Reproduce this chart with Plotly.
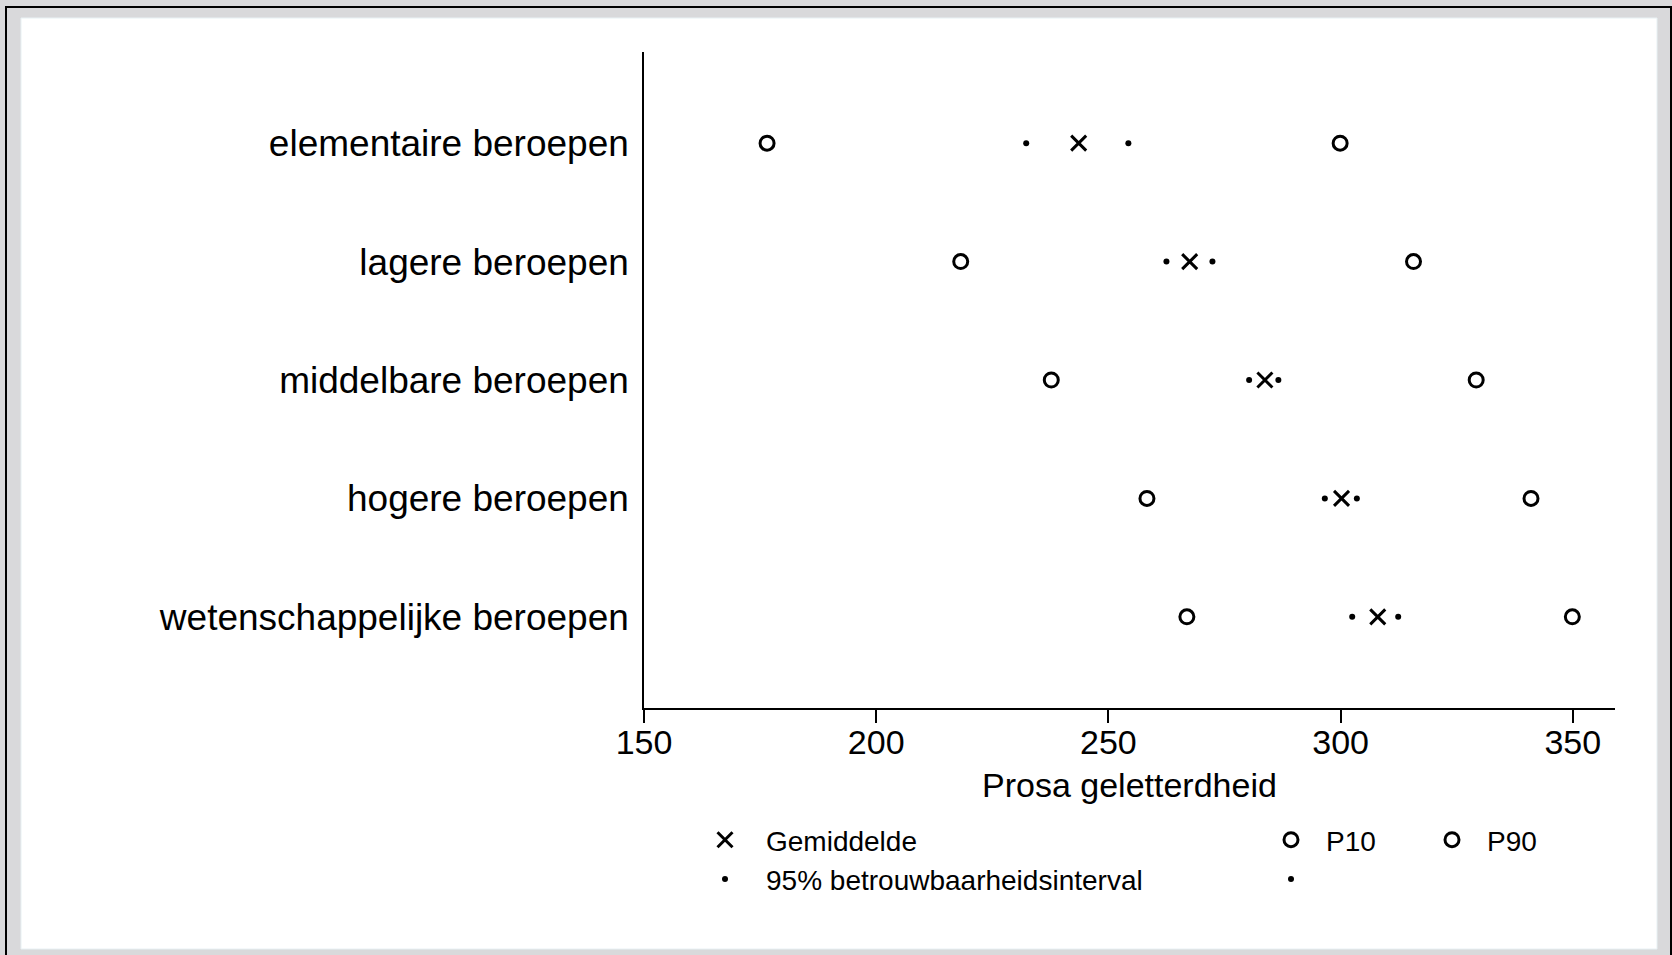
import plotly.graph_objects as go

# ---- data ----
categories = ["elementaire beroepen", "lagere beroepen", "middelbare beroepen",
              "hogere beroepen", "wetenschappelijke beroepen"]
gemiddelde = [243.6, 267.5, 283.7, 300.2, 308.0]
ci_lower = [232.3, 262.5, 280.3, 296.6, 302.5]
ci_upper = [254.3, 272.4, 286.6, 303.5, 312.4]
p10 = [176.5, 218.2, 237.7, 258.3, 266.9]
p90 = [299.9, 315.7, 329.2, 341.0, 349.9]
x_ticks = [150, 200, 250, 300, 350]
x_title = "Prosa geletterdheid"
names = {"mean": "Gemiddelde", "ci": "95% betrouwbaarheidsinterval",
         "p10": "P10", "p90": "P90"}

# ---- layout geometry (pixels) ----
W, H = 1672, 955
ML, MR, MT, MB = 644, 57, 52, 247
PW, PH = W - ML - MR, H - MT - MB


def px(xp):
    return (xp - ML) / PW


def py(yp):
    return (H - MB - yp) / PH


FONT = "Liberation Sans, Arial, Helvetica, sans-serif"
BLACK = "black"
FS = 37      # category labels
FS_X = 34    # x tick labels and axis title

fig = go.Figure()

fig.add_trace(go.Scatter(
    x=gemiddelde, y=categories, mode="markers", name=names["mean"],
    marker=dict(symbol="x-thin", size=15, line=dict(width=3, color=BLACK), color=BLACK),
    legend="legend"))
fig.add_trace(go.Scatter(
    x=ci_lower, y=categories, mode="markers", name=names["ci"],
    marker=dict(symbol="circle", size=6, color=BLACK, line=dict(width=0)),
    legend="legend"))
fig.add_trace(go.Scatter(
    x=p10, y=categories, mode="markers", name=names["p10"],
    marker=dict(symbol="circle-open", size=14, line=dict(width=3, color=BLACK), color=BLACK),
    legend="legend2"))
fig.add_trace(go.Scatter(
    x=ci_upper, y=categories, mode="markers", name=" ",
    marker=dict(symbol="circle", size=6, color=BLACK, line=dict(width=0)),
    legend="legend2"))
fig.add_trace(go.Scatter(
    x=p90, y=categories, mode="markers", name=names["p90"],
    marker=dict(symbol="circle-open", size=14, line=dict(width=3, color=BLACK), color=BLACK),
    legend="legend3"))

legend_font = dict(family=FONT, size=28, color=BLACK)
common_leg = dict(font=legend_font, bgcolor="rgba(0,0,0,0)", borderwidth=0,
                  xanchor="left", yanchor="top", orientation="v",
                  traceorder="normal", tracegroupgap=0)

LEG_TOP = 815

fig.update_layout(
    width=W, height=H,
    margin=dict(l=ML, r=MR, t=MT, b=MB, pad=0),
    paper_bgcolor="#d9d9db",
    plot_bgcolor="white",
    font=dict(family=FONT, color=BLACK, size=FS),
    showlegend=True,
    legend=dict(x=px(684), y=py(LEG_TOP), itemwidth=72, **common_leg),
    legend2=dict(x=px(1256), y=py(LEG_TOP), itemwidth=60, **common_leg),
    legend3=dict(x=px(1417), y=py(LEG_TOP), itemwidth=60, **common_leg),
    xaxis=dict(
        range=[150, 150 + PW / 4.644], tickvals=x_ticks,
        ticks="outside", ticklen=13, tickwidth=1.5, tickcolor=BLACK,
        showline=True, linecolor=BLACK, linewidth=1.5,
        showgrid=False, zeroline=False, ticklabelstandoff=-10,
        tickfont=dict(family=FONT, size=FS_X, color=BLACK),
        fixedrange=True,
    ),
    yaxis=dict(
        type="category", categoryorder="array", categoryarray=categories,
        range=[4.77, -0.77],
        ticks="", showline=True, linecolor=BLACK, linewidth=1.5,
        showgrid=False, zeroline=False, ticklabelstandoff=6,
        tickfont=dict(family=FONT, size=FS, color=BLACK),
        fixedrange=True,
    ),
    annotations=[
        dict(text=x_title, xref="paper", yref="paper", x=0.5, y=py(785),
             xanchor="center", yanchor="middle", showarrow=False,
             font=dict(family=FONT, size=FS_X, color=BLACK)),
    ],
    shapes=[
        dict(type="rect", xref="paper", yref="paper", layer="below",
             x0=px(21), x1=px(1657), y0=py(949), y1=py(18),
             fillcolor="white", line=dict(width=1, color="#e8f1f4")),
        dict(type="rect", xref="paper", yref="paper", layer="below",
             x0=px(6), x1=px(1671), y0=py(1000), y1=py(7),
             fillcolor="rgba(0,0,0,0)", line=dict(width=2, color=BLACK)),
    ],
)

fig.write_html("out.html", config={"displayModeBar": False},
               post_script="document.body.style.margin='0px';document.body.style.overflow='hidden';")
